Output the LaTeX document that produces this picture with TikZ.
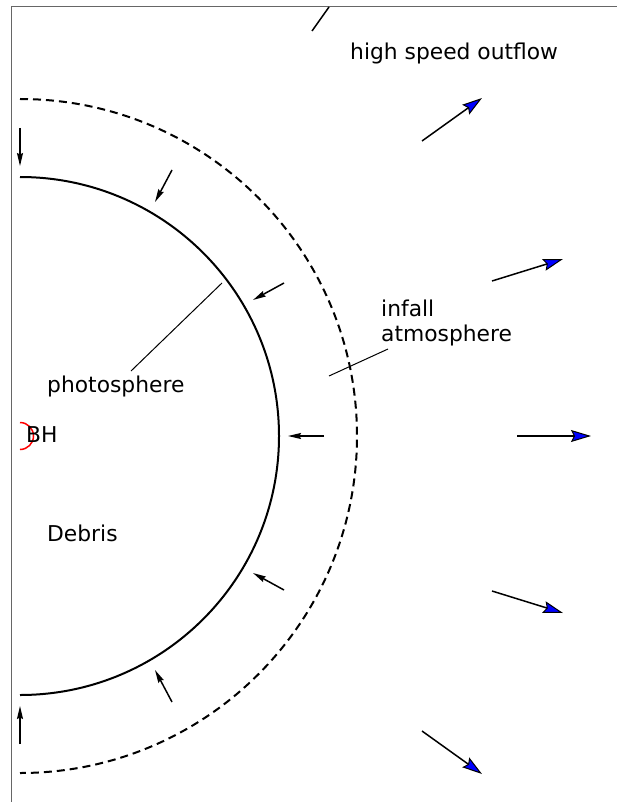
\documentclass[tikz,border=0pt]{standalone}
\usepackage{fontspec}
\setmainfont{DejaVu Sans}
\usetikzlibrary{arrows.meta}
\begin{document}
\begin{tikzpicture}[x=1pt,y=-1pt,
  lbl/.style={inner sep=0pt,anchor=base west,font=\fontsize{21.8}{25}\selectfont},
  inarrow/.style={line width=1.5pt,-{Stealth[length=13pt,width=6pt,inset=1.5pt]}},
  outarrow/.style={line width=1.5pt,-{Stealth[length=20pt,width=12pt,inset=3pt,fill=blue,line width=1pt]}},
  leader/.style={line width=1pt},
  shell/.style={line width=2pt},
  frameline/.style={draw=black!60,line width=1pt}]
\useasboundingbox (0,0) rectangle (617,802);
\draw[frameline] (11,802) -- (11,7) -- (617,7);
\coordinate (c) at (20,436);
% photosphere and infall atmosphere boundary
\draw[shell] (20,177) arc[start angle=-90,end angle=90,radius=259];
\draw[shell,dash pattern=on 8pt off 5pt] (20,99) arc[start angle=-90,end angle=90,radius=337];
% black hole
\draw[red,line width=1.5pt] (20,422.5) arc[start angle=-90,end angle=90,radius=13.5];
% labels
\node[lbl] (hso) at (350,60) {high speed outflow};
\node[lbl,align=left] (infall) at (381,341) {infall\\atmosphere};
\node[lbl] (photo) at (47,392) {photosphere};
\node[lbl] (bh) at (26,442) {BH};
\node[lbl] (debris) at (47,541) {Debris};
% leaders
\coordinate (pl1) at (131,371); \coordinate (pl2) at (222,283);
\draw[leader] (pl1) -- (pl2);
\coordinate (il1) at (329,376); \coordinate (il2) at (388,349);
\draw[leader] (il1) -- (il2);
\coordinate (tl1) at (312,31); \coordinate (tl2) at (329,7);
\draw[line width=1.5pt] (tl1) -- (tl2);
% inflow arrows
\coordinate (ia1) at (20,128);  \coordinate (ib1) at (20,166);
\coordinate (ia2) at (172,170); \coordinate (ib2) at (155,202);
\coordinate (ia3) at (284,283); \coordinate (ib3) at (253,300);
\coordinate (ia4) at (324,436); \coordinate (ib4) at (288,436);
\coordinate (ia5) at (284,590); \coordinate (ib5) at (253,573);
\coordinate (ia6) at (172,702); \coordinate (ib6) at (155,670);
\coordinate (ia7) at (20,744);  \coordinate (ib7) at (20,706);
\foreach \i in {1,...,7} \draw[inarrow] (ia\i) -- (ib\i);
% outflow arrows
\coordinate (oa1) at (422,141); \coordinate (ob1) at (482,98);
\coordinate (oa2) at (492,281); \coordinate (ob2) at (563,259);
\coordinate (oa3) at (517,436); \coordinate (ob3) at (591,436);
\coordinate (oa4) at (492,591); \coordinate (ob4) at (563,613);
\coordinate (oa5) at (422,731); \coordinate (ob5) at (482,774);
\foreach \i in {1,...,5} \draw[outarrow] (oa\i) -- (ob\i);
\end{tikzpicture}
\end{document}
